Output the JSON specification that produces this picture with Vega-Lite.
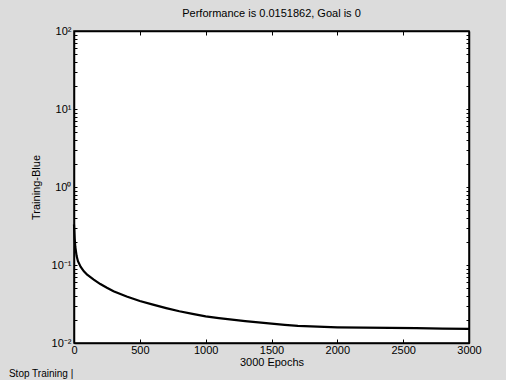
{
  "$schema": "https://vega.github.io/schema/vega-lite/v6.json",
  "width": 395,
  "height": 312,
  "autosize": {"type": "none"},
  "padding": {"left": 74, "top": 31, "right": 37, "bottom": 37},
  "background": "#dcdcdc",
  "title": {"text": "Performance is 0.0151862, Goal is 0", "font": "Liberation Sans", "fontSize": 11, "fontWeight": "normal", "color": "#000000", "anchor": "middle", "offset": 6},
  "config": {
    "view": {"fill": "#ffffff", "stroke": "#000000", "strokeWidth": 1.5},
    "axis": {"grid": false, "domainColor": "#000000", "domainWidth": 1.5, "tickColor": "#000000", "labelColor": "#000000", "titleColor": "#000000", "labelFont": "Liberation Sans", "titleFont": "Liberation Sans", "labelFontSize": 11, "titleFontSize": 11, "titleFontWeight": "normal"}
  },
  "datasets": {
    "perf": [
      {"epoch": 0, "mse": 0.33}, {"epoch": 5, "mse": 0.22}, {"epoch": 10, "mse": 0.17}, {"epoch": 20, "mse": 0.13},
      {"epoch": 30, "mse": 0.112}, {"epoch": 50, "mse": 0.095}, {"epoch": 75, "mse": 0.083}, {"epoch": 100, "mse": 0.075},
      {"epoch": 150, "mse": 0.065}, {"epoch": 200, "mse": 0.057}, {"epoch": 250, "mse": 0.051}, {"epoch": 300, "mse": 0.046},
      {"epoch": 400, "mse": 0.0395}, {"epoch": 500, "mse": 0.0345}, {"epoch": 600, "mse": 0.031}, {"epoch": 700, "mse": 0.028},
      {"epoch": 800, "mse": 0.0255}, {"epoch": 900, "mse": 0.0236}, {"epoch": 1000, "mse": 0.0219}, {"epoch": 1100, "mse": 0.0208},
      {"epoch": 1200, "mse": 0.0199}, {"epoch": 1300, "mse": 0.0191}, {"epoch": 1400, "mse": 0.0184}, {"epoch": 1500, "mse": 0.0177},
      {"epoch": 1600, "mse": 0.0171}, {"epoch": 1700, "mse": 0.0166}, {"epoch": 1800, "mse": 0.0163}, {"epoch": 2000, "mse": 0.0159},
      {"epoch": 2200, "mse": 0.0157}, {"epoch": 2400, "mse": 0.0156}, {"epoch": 2600, "mse": 0.0155}, {"epoch": 2800, "mse": 0.0153},
      {"epoch": 3000, "mse": 0.0152}
    ],
    "button": [{"label": "Stop Training  |", "epoch": -250, "mse": 0.0040}]
  },
  "layer": [
    {
      "data": {"name": "perf"},
      "mark": {"type": "line", "color": "#000000", "strokeWidth": 2.2},
      "encoding": {
        "x": {"field": "epoch", "type": "quantitative", "scale": {"domain": [0, 3000], "nice": false},
              "axis": {"title": "3000 Epochs", "values": [0, 500, 1000, 1500, 2000, 2500, 3000], "format": "d", "tickSize": -4, "labelPadding": 5, "titlePadding": 1, "labelFlush": false}},
        "y": {"field": "mse", "type": "quantitative", "scale": {"type": "log", "domain": [0.01, 100], "nice": false},
              "axis": {"title": "Training-Blue", "titlePadding": 10,
                       "values": [0.01,0.02,0.03,0.04,0.05,0.06,0.07,0.08,0.09,0.1,0.2,0.3,0.4,0.5,0.6,0.7,0.8,0.9,1,2,3,4,5,6,7,8,9,10,20,30,40,50,60,70,80,90,100],
                       "labelExpr": "datum.value == 0.01 ? '10⁻²' : datum.value == 0.1 ? '10⁻¹' : datum.value == 1 ? '10⁰' : datum.value == 10 ? '10¹' : datum.value == 100 ? '10²' : ''",
                       "tickSize": -3, "labelPadding": 6, "labelFlush": false, "labelOverlap": false}}
      }
    },
    {
      "data": {"name": "perf"},
      "mark": {"type": "line", "opacity": 0},
      "encoding": {
        "x": {"field": "epoch", "type": "quantitative", "axis": {"orient": "top", "title": null, "labels": false, "values": [0, 500, 1000, 1500, 2000, 2500, 3000], "tickSize": -4}},
        "y": {"field": "mse", "type": "quantitative", "axis": {"orient": "right", "title": null, "labels": false, "tickSize": -3,
              "values": [0.01,0.02,0.03,0.04,0.05,0.06,0.07,0.08,0.09,0.1,0.2,0.3,0.4,0.5,0.6,0.7,0.8,0.9,1,2,3,4,5,6,7,8,9,10,20,30,40,50,60,70,80,90,100]}}
      }
    },
    {
      "data": {"name": "button"},
      "mark": {"type": "text", "font": "Liberation Sans", "fontSize": 10, "color": "#000000", "clip": false},
      "encoding": {
        "x": {"field": "epoch", "type": "quantitative", "axis": null},
        "y": {"field": "mse", "type": "quantitative", "axis": null},
        "text": {"field": "label"}
      }
    }
  ],
  "resolve": {"axis": {"x": "independent", "y": "independent"}}
}
